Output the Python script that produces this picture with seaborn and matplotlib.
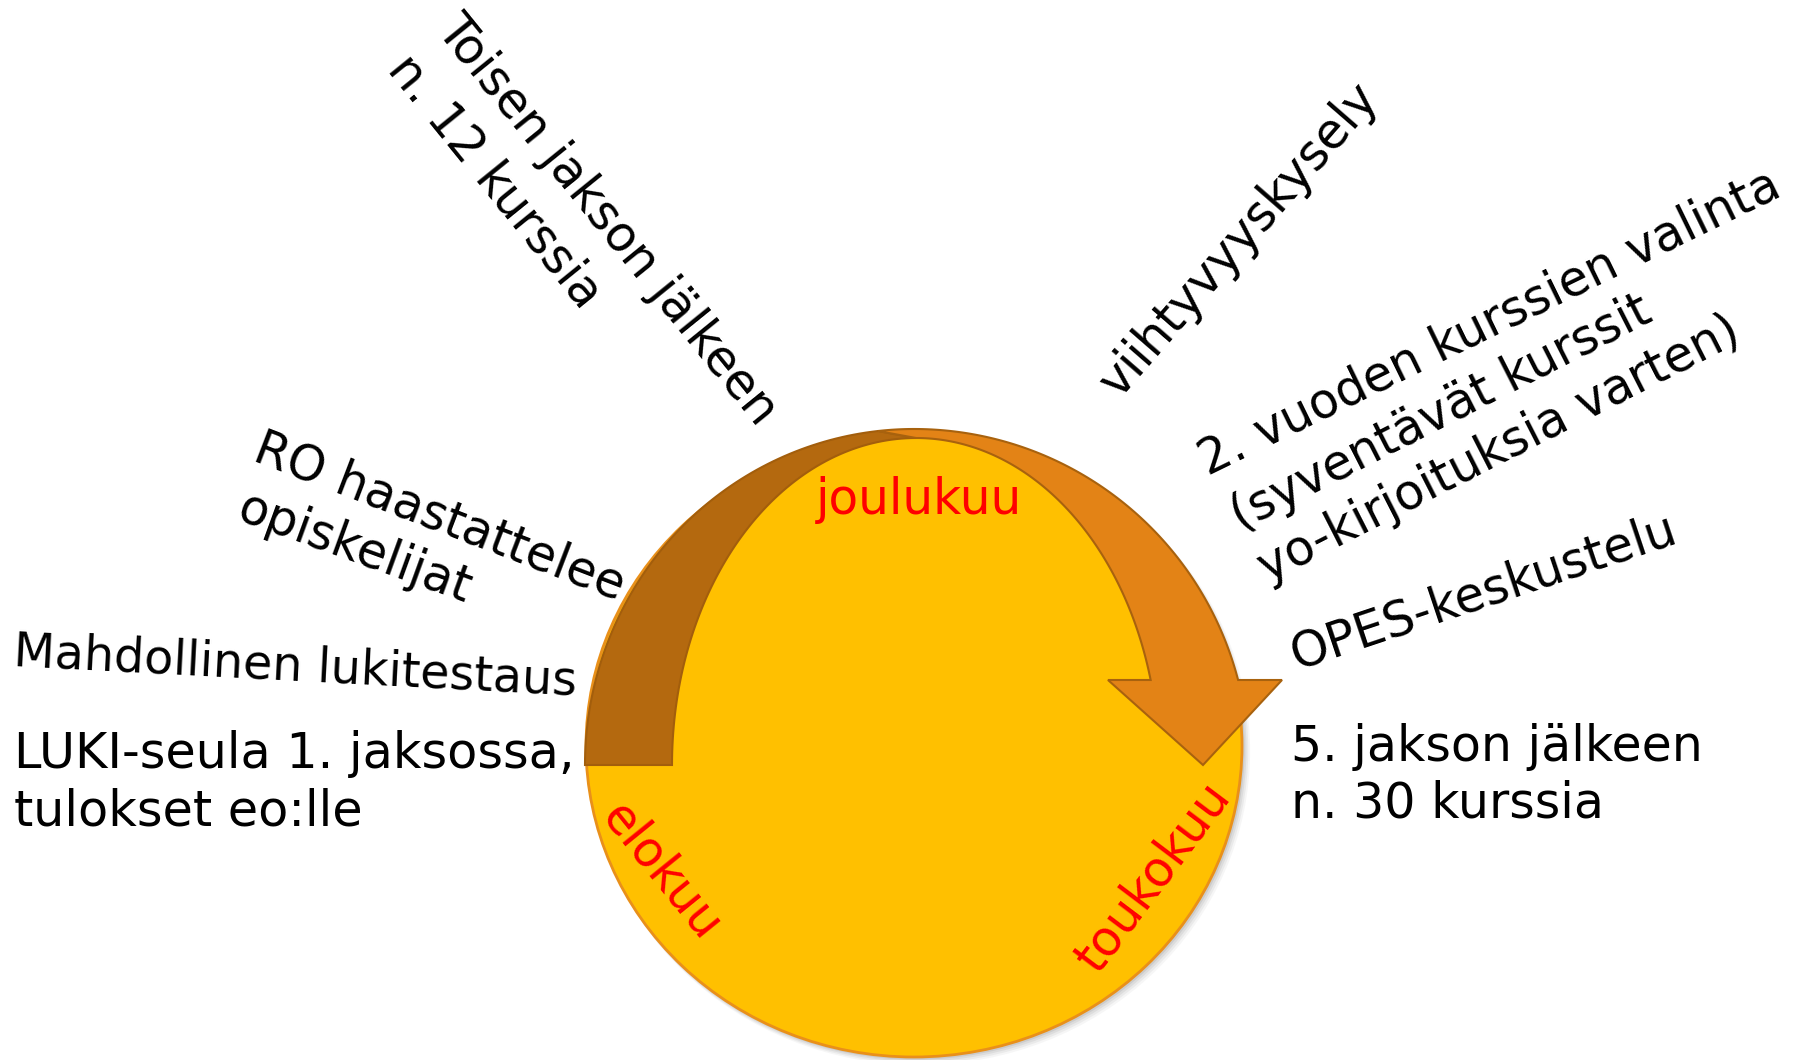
import numpy as np
import matplotlib
matplotlib.use("Agg")
import matplotlib.pyplot as plt
from matplotlib.patches import Ellipse, Polygon
import seaborn as sns

# ---- content -------------------------------------------------------------
month_labels = ["joulukuu", "elokuu", "toukokuu"]
event_lines = [
    "Toisen jakson jälkeen",
    "n. 12 kurssia",
    "RO haastattelee",
    "opiskelijat",
    "Mahdollinen lukitestaus",
    "LUKI-seula 1. jaksossa,",
    "tulokset eo:lle",
    "viihtyvyyskysely",
    "2. vuoden kurssien valinta",
    "(syventävät kurssit",
    "yo-kirjoituksia varten)",
    "OPES-keskustelu",
    "5. jakson jälkeen",
    "n. 30 kurssia",
]

# ---- layout (pixel coordinates of the canvas) ----------------------------
month_pos = [(919, 500, 0), (661, 871, -51), (1153, 877, 53)]
event_layout = [
    # x, y, rotation, ha, fontsize
    (607, 220, -51, "center", 35),
    (495, 181, -51, "center", 35),
    (440, 517, -21, "center", 35),
    (355, 548, -20, "center", 35),
    (14, 652, -3, "left", 34.3),
    (14, 754, 0, "left", 35.5),
    (14, 811, 0, "left", 35.5),
    (1239, 240, 49, "center", 35),
    (1490, 323, 26, "center", 35),
    (1441, 413, 27, "center", 35),
    (1499, 449, 27, "center", 35),
    (1483, 592, 18.5, "center", 35),
    (1291, 747, 0, "left", 35.3),
    (1291, 804, 0, "left", 35.3),
]

W, H = 1795, 1060
sns.set_style("white")
plt.rcParams["font.family"] = ["DejaVu Sans"]

fig = plt.figure(figsize=(W / 100, H / 100), dpi=100)
ax = fig.add_axes([0, 0, 1, 1])
ax.set_xlim(0, W)
ax.set_ylim(H, 0)
ax.set_aspect("equal")
ax.axis("off")

# ---- circle with soft shadow --------------------------------------------
ecx, ecy, ew, eh = 914, 746, 656, 622
for k, a in [(9, 0.05), (7, 0.07), (5, 0.09), (3, 0.12)]:
    ax.add_patch(Ellipse((ecx + k * 0.6, ecy + k * 0.6), ew + k * 0.6, eh + k * 0.6,
                         facecolor="#555555", edgecolor="none", alpha=a, zorder=1))
ax.add_patch(Ellipse((ecx, ecy), ew, eh, facecolor="#FFC000",
                     edgecolor="#E9901A", lw=2, zorder=2))

# ---- curved arrow --------------------------------------------------------
cx_o, cy_o, b_o, a_ol, a_or = 914, 765, 336, 329, 335
cx_i, cy_i, b_i, a_il, a_ir = 916, 765, 327, 244, 243
y_end = 680

def outer_left(t):
    return np.c_[cx_o - a_ol * np.cos(t), cy_o - b_o * np.sin(t)]

def outer_right(t):
    return np.c_[cx_o + a_or * np.cos(t), cy_o - b_o * np.sin(t)]

def inner_left(t):
    return np.c_[cx_i - a_il * np.cos(t), cy_i - b_i * np.sin(t)]

def inner_right(t):
    return np.c_[cx_i + a_ir * np.cos(t), cy_i - b_i * np.sin(t)]

t_seam = np.arccos((cx_o - 878) / a_ol)
to_end = np.arcsin((cy_o - y_end) / b_o)
ti_end = np.arcsin((cy_i - y_end) / b_i)
peak = np.array([[cx_i, cy_i - b_i]])

dark = np.vstack([
    outer_left(np.linspace(0, t_seam, 80)),
    peak,
    inner_left(np.linspace(np.pi / 2, 0, 80)),
])
ax.add_patch(Polygon(dark, closed=True, facecolor="#B4690F",
                     edgecolor="#A35E0C", lw=1.5, zorder=3))

head = np.array([[1282, y_end], [1203, 765], [1108, y_end]])
orange = np.vstack([
    outer_left(np.linspace(t_seam, np.pi / 2, 20)),
    outer_right(np.linspace(np.pi / 2, to_end, 100)),
    head,
    inner_right(np.linspace(ti_end, np.pi / 2, 100)),
])
ax.add_patch(Polygon(orange, closed=True, facecolor="#E38316",
                     edgecolor="#A8620E", lw=1.5, zorder=4))

# ---- texts ---------------------------------------------------------------
FS = 35
for lab, (x, y, r) in zip(month_labels, month_pos):
    ax.text(x, y, lab, color="#FF0000", fontsize=FS, rotation=r,
            ha="center", va="center", rotation_mode="anchor", zorder=6)

for lab, (x, y, r, ha, fs) in zip(event_lines, event_layout):
    ax.text(x, y, lab, color="black", fontsize=fs, rotation=r,
            ha=ha, va="center", rotation_mode="anchor", zorder=6)

fig.savefig("out.png", dpi=100, facecolor="white")
